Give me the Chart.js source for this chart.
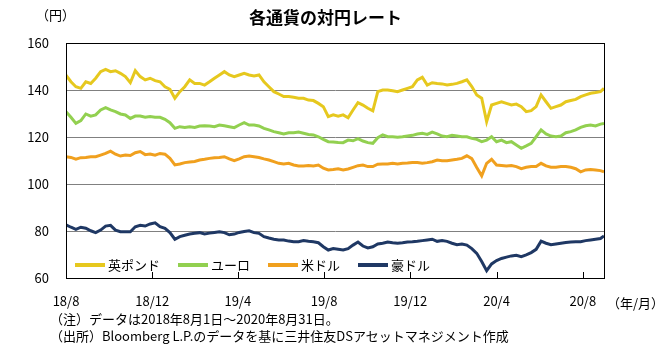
<!DOCTYPE html>
<html>
<head>
<meta charset="utf-8">
<script src="https://cdn.jsdelivr.net/npm/chart.js@4.4.0/dist/chart.umd.min.js"></script>
<style>
  body { margin: 0; background: #fff; }
  #wrap { position: relative; width: 669px; height: 348px; font-family: 'Noto Sans CJK JP', sans-serif; color: #000; }
  #wrap canvas { position: absolute; left: 0; top: 0; }
  .lbl { position: absolute; white-space: nowrap; font-size: 13px; line-height: 1; }
  #title { left: 0; width: 651px; top: 8px; text-align: center; font-size: 17px; font-weight: bold; }
</style>
</head>
<body>
<div id="wrap">
  <canvas id="myChart" width="669" height="348"></canvas>
  <div class="lbl" id="title">各通貨の対円レート</div>
  <div class="lbl" style="left:36px;top:8px;">（円）</div>
  <div class="lbl" style="left:607px;top:296px;">（年/月）</div>
  <div class="lbl" style="left:50px;top:312px;">（注）データは2018年8月1日～2020年8月31日。</div>
  <div class="lbl" style="left:50px;top:329px;">（出所）Bloomberg L.P.のデータを基に三井住友DSアセットマネジメント作成</div>
</div>
<script>
// weekly readings from 2018-08-01, last value is 2020-08-31
var startDate = "2018-08-01";
var endDate = "2020-08-31";

var tickDates = ["2018-08-01", "2018-12-01", "2019-04-01", "2019-08-01", "2019-12-01", "2020-04-01", "2020-08-01"];
var tickLabels = ["18/8", "18/12", "19/4", "19/8", "19/12", "20/4", "20/8"];

var labels = ["英ポンド", "ユーロ", "米ドル", "豪ドル"];
var colors = ["#E6C81E", "#92D050", "#F0A01E", "#1F3864"];

var gbp = [146.3, 143.5, 141.4, 140.7, 143.5, 142.8, 145.0, 147.8, 148.8, 147.8,
  148.2, 147.1, 145.7, 143.1, 148.2, 145.7, 144.3, 145.0, 144.0, 143.5,
  141.4, 140.3, 136.5, 139.3, 141.4, 144.3, 142.8, 142.8, 142.1, 143.5,
  145.0, 146.4, 147.8, 146.4, 145.7, 146.4, 147.1, 146.4, 146.0, 146.4,
  143.5, 141.4, 139.3, 138.3, 137.2, 137.2, 136.9, 136.5, 136.5, 135.7,
  135.5, 134.3, 132.9, 128.7, 129.4, 128.9, 129.4, 128.2, 131.5, 134.6,
  133.6, 132.2, 131.1, 139.3, 140.0, 140.0, 139.7, 139.3, 140.0, 140.7,
  141.4, 144.3, 145.4, 142.1, 143.1, 142.8, 142.6, 142.1, 142.4, 142.8,
  143.5, 144.3, 141.5, 137.9, 136.5, 126.5, 133.6, 134.3, 135.0, 134.3,
  133.6, 134.0, 132.9, 130.8, 131.2, 132.9, 137.9, 135.0, 132.2, 132.9,
  133.6, 135.0, 135.5, 136.0, 137.2, 137.9, 138.6, 138.9, 139.3, 140.7];

var eur = [130.8, 128.4, 125.8, 127.0, 129.8, 128.9, 129.4, 131.5, 132.5, 131.5,
  130.8, 129.8, 129.4, 127.9, 128.9, 128.9, 128.4, 128.7, 128.4, 128.4,
  127.5, 126.1, 123.7, 124.4, 124.1, 124.4, 124.1, 124.7, 124.8, 124.7,
  124.4, 125.1, 124.8, 124.4, 124.0, 125.1, 126.1, 125.1, 125.1, 124.7,
  123.7, 123.0, 122.3, 121.8, 121.3, 121.8, 121.8, 122.1, 121.6, 121.1,
  120.9, 120.1, 119.0, 118.0, 117.9, 117.7, 117.6, 118.7, 118.4, 119.3,
  118.3, 117.6, 117.3, 119.7, 120.9, 120.1, 120.1, 119.9, 120.1, 120.4,
  120.7, 121.3, 121.6, 121.1, 122.1, 121.3, 120.4, 120.1, 120.7, 120.4,
  120.1, 120.1, 119.4, 119.0, 118.0, 118.7, 120.1, 118.0, 118.7, 117.6,
  118.0, 116.6, 115.2, 116.2, 117.3, 120.1, 123.0, 121.3, 120.4, 120.1,
  120.4, 121.8, 122.3, 123.0, 124.1, 124.8, 125.1, 124.7, 125.5, 125.8];

var usd = [111.6, 111.3, 110.6, 111.2, 111.3, 111.6, 111.6, 112.3, 113.0, 114.0,
  112.7, 111.9, 112.3, 112.1, 113.3, 113.8, 112.5, 112.8, 112.3, 113.0,
  112.7, 110.9, 108.1, 108.5, 109.1, 109.4, 109.6, 110.2, 110.5, 110.9,
  111.2, 111.3, 111.6, 110.7, 109.9, 110.7, 111.6, 111.9, 111.6, 111.3,
  110.7, 110.2, 109.5, 108.8, 108.5, 108.8, 108.1, 107.7, 107.7, 107.9,
  107.7, 108.1, 106.7, 106.0, 106.2, 106.5, 106.0, 106.4, 107.1, 107.8,
  108.1, 107.4, 107.4, 108.4, 108.5, 108.5, 108.8, 108.5, 108.8, 108.9,
  109.1, 109.1, 108.8, 109.1, 109.5, 110.2, 109.9, 109.9, 110.2, 110.5,
  110.9, 112.0, 110.8, 107.0, 103.5, 108.8, 110.5, 108.1, 107.9, 107.7,
  107.9, 107.4, 106.5, 107.1, 107.4, 107.4, 108.8, 107.7, 107.1, 107.1,
  107.4, 107.4, 107.1, 106.5, 105.2, 106.0, 106.2, 106.0, 105.7, 105.2];

var aud = [82.6, 81.6, 80.7, 81.6, 81.2, 80.1, 79.3, 80.4, 82.1, 82.4,
  80.4, 79.7, 79.7, 79.7, 81.8, 82.4, 82.1, 83.0, 83.5, 81.8,
  81.1, 79.3, 76.5, 77.6, 78.2, 78.7, 79.0, 79.3, 78.7, 79.1,
  79.4, 79.7, 79.3, 78.4, 78.7, 79.4, 79.8, 80.1, 79.3, 79.0,
  77.6, 77.0, 76.5, 76.2, 76.2, 75.7, 75.4, 75.4, 75.9, 75.6,
  75.4, 75.0, 73.3, 71.9, 72.5, 72.2, 71.9, 72.5, 74.0, 75.3,
  73.6, 72.8, 73.3, 74.5, 74.8, 75.3, 75.0, 74.8, 75.0, 75.3,
  75.4, 75.6, 75.9, 76.2, 76.5, 75.6, 75.9, 75.6, 74.8, 74.2,
  74.5, 74.0, 72.5, 70.5, 67.0, 63.1, 66.0, 67.4, 68.3, 68.9,
  69.4, 69.7, 69.1, 69.8, 70.8, 72.2, 75.7, 74.8, 74.2, 74.5,
  74.8, 75.1, 75.3, 75.4, 75.4, 75.9, 76.2, 76.5, 76.8, 77.9];

function dayOf(s) {
  return Math.round((Date.parse(s) - Date.parse(startDate)) / 86400000);
}
var lastDay = dayOf(endDate);
var tickDays = tickDates.map(dayOf);

function toPoints(arr) {
  return arr.map(function (v, i) {
    return { x: i === arr.length - 1 ? lastDay : i * 7, y: v };
  });
}

var series = [gbp, eur, usd, aud];
var datasets = series.map(function (arr, k) {
  return {
    label: labels[k],
    data: toPoints(arr),
    borderColor: colors[k],
    backgroundColor: colors[k],
    borderWidth: 3,
    pointRadius: 0,
    tension: 0
  };
});

var FONT = "'Noto Sans CJK JP', sans-serif";

// box round the plot, inward ticks on x axis, legend inside the plot
var extras = {
  id: "extras",
  afterDraw: function (chart) {
    var c = chart.ctx, a = chart.chartArea, xs = chart.scales.x;
    c.save();
    c.strokeStyle = "#000";
    c.lineWidth = 1;
    c.strokeRect(Math.round(a.left) + 0.5, Math.round(a.top) + 0.5, Math.round(a.right - a.left), Math.round(a.bottom - a.top));
    c.beginPath();
    tickDays.forEach(function (d, i) {
      if (i === 0) return;
      var px = Math.round(xs.getPixelForValue(d)) + 0.5;
      c.moveTo(px, a.bottom);
      c.lineTo(px, a.bottom - 6);
    });
    c.stroke();

    c.font = "13px " + FONT;
    c.textBaseline = "middle";
    c.fillStyle = "#000";
    var x = a.left + 9, y = a.bottom - 13;
    chart.data.datasets.forEach(function (ds) {
      c.strokeStyle = ds.borderColor;
      c.lineWidth = 4;
      c.beginPath();
      c.moveTo(x, y);
      c.lineTo(x + 30, y);
      c.stroke();
      c.fillText(ds.label, x + 33, y);
      x += 33 + c.measureText(ds.label).width + 18;
    });
    c.restore();
  }
};

var ctx = document.getElementById("myChart").getContext("2d");
var chart = new Chart(ctx, {
  type: "line",
  data: { datasets: datasets },
  options: {
    responsive: false,
    animation: false,
    devicePixelRatio: 1,
    layout: { padding: { top: 43, right: 65, left: 0, bottom: 0 } },
    plugins: {
      legend: { display: false },
      title: { display: false },
      tooltip: { enabled: false }
    },
    scales: {
      x: {
        type: "linear",
        min: 0,
        max: lastDay,
        afterBuildTicks: function (s) {
          s.ticks = tickDays.map(function (v) { return { value: v }; });
        },
        afterFit: function (s) { s.height = 70; },
        grid: { display: false },
        border: { color: "#000" },
        ticks: {
          autoSkip: false,
          maxRotation: 0,
          padding: 7,
          color: "#000",
          font: { family: FONT, size: 13 },
          callback: function (v) { return tickLabels[tickDays.indexOf(v)]; }
        }
      },
      y: {
        min: 60,
        max: 160,
        afterFit: function (s) { s.width = 66; },
        grid: {
          drawTicks: false,
          color: function (c) {
            return (c.tick.value === 60 || c.tick.value === 160) ? "rgba(0,0,0,0)" : "#808080";
          }
        },
        border: { color: "#000" },
        ticks: {
          stepSize: 20,
          padding: 17,
          color: "#000",
          font: { family: FONT, size: 13 }
        }
      }
    }
  },
  plugins: [extras]
});
</script>
</body>
</html>
